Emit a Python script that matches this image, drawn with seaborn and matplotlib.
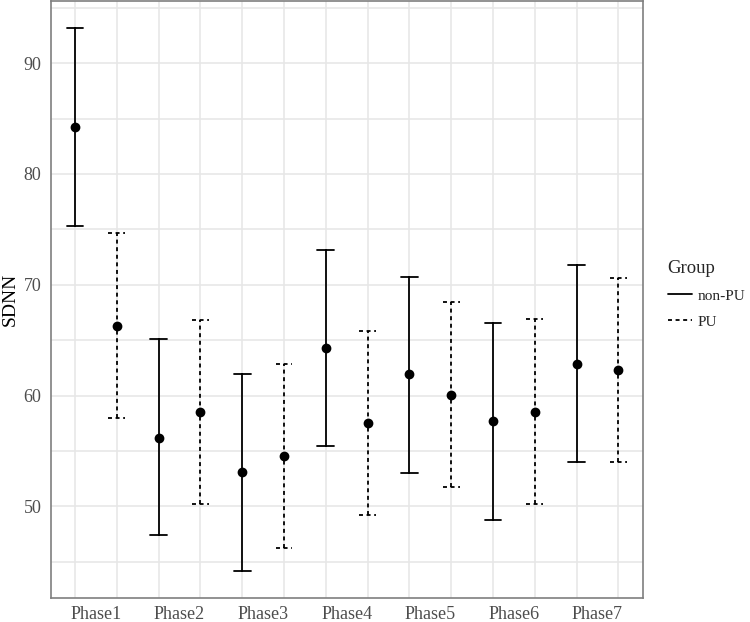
import numpy as np
import pandas as pd
import matplotlib
matplotlib.use("Agg")
import matplotlib.pyplot as plt
import seaborn as sns
from matplotlib.lines import Line2D

sns.set_theme(style="white")
plt.rcParams["font.family"] = ["Liberation Serif", "DejaVu Serif"]

phases = ["Phase1", "Phase2", "Phase3", "Phase4", "Phase5", "Phase6", "Phase7"]
groups = ["non-PU", "PU"]

# mean and interval bounds
nonpu_mean = [84.23, 56.21, 53.08, 64.30, 61.91, 57.70, 62.86]
nonpu_low = [75.33, 47.38, 44.18, 55.43, 53.04, 48.81, 54.00]
nonpu_high = [93.17, 65.08, 61.94, 73.16, 70.74, 66.56, 71.75]
pu_mean = [66.30, 58.48, 54.57, 57.56, 60.09, 58.54, 62.27]
pu_low = [57.96, 50.24, 46.28, 49.26, 51.79, 50.24, 54.00]
pu_high = [74.64, 66.80, 62.89, 65.82, 68.42, 66.87, 70.59]

rows = []
for g, m, lo, hi in [("non-PU", nonpu_mean, nonpu_low, nonpu_high),
                     ("PU", pu_mean, pu_low, pu_high)]:
    for ph, a, b, c in zip(phases, m, lo, hi):
        for v in (a, b, c):
            rows.append({"Phase": ph, "Group": g, "SDNN": v})
df = pd.DataFrame(rows)

fig = plt.figure(figsize=(7.5, 6.22), dpi=100)
ax = fig.add_axes([0.068, 0.0386, 0.789, 0.96])

# median of (low, mean, high) is the mean; 100% interval is low..high
sns.pointplot(data=df, x="Phase", y="SDNN", hue="Group", order=phases,
              hue_order=groups, estimator="median", errorbar=("pi", 100),
              dodge=0.5, capsize=0.2, palette=["black", "black"],
              linestyle="none", markers="o", markersize=5,
              err_kws={"linewidth": 1.3}, legend=False, ax=ax)

# error bars are the lines with NaN breaks (caps), point lines have none
for ln in ax.lines:
    x = np.asarray(ln.get_xdata(), dtype=float)
    if np.isnan(x).any():
        ln.set_zorder(2)
        if (np.nanmean(x) % 1) < 0.5:
            ln.set_linestyle((0, (2.2, 2.0)))
    else:
        ln.set_linestyle("none")
        ln.set_zorder(3)

ax.set_xlim(-0.537, 6.542)
ax.set_ylim(41.73, 95.62)
ax.set_yticks([50, 60, 70, 80, 90])
ax.set_yticks([45, 55, 65, 75, 85, 95], minor=True)
ax.set_xticks(range(len(phases)))
ax.set_xticklabels(phases)
dodged = [i + d for i in range(len(phases)) for d in (-0.25, 0.25)]
ax.set_xticks(dodged, minor=True)

ax.xaxis.grid(False, which="major")
ax.xaxis.grid(True, which="minor", color="#e6e6e6", linewidth=1.1)
ax.yaxis.grid(True, which="both", color="#e6e6e6", linewidth=1.1)
ax.set_axisbelow(True)

ax.tick_params(axis="both", which="both", length=0, labelsize=13, colors="#4d4d4d")
ax.tick_params(axis="x", pad=6)
ax.tick_params(axis="y", pad=7)
ax.set_xlabel("")
ax.set_ylabel("SDNN", fontsize=14, color="black", labelpad=3)
for s in ax.spines.values():
    s.set_visible(True)
    s.set_color("#7f7f7f")
    s.set_linewidth(1.2)

handles = [Line2D([], [], color="black", linewidth=1.3),
           Line2D([], [], color="black", linewidth=1.3, linestyle=(0, (2.2, 2.0)))]
leg = fig.legend(handles, groups, title="Group", loc="center left",
                 bbox_to_anchor=(0.886, 0.527), frameon=False, fontsize=11,
                 title_fontsize=13.5, handlelength=1.6, handletextpad=0.35,
                 labelspacing=0.8, borderaxespad=0.0, borderpad=0.2)
leg._legend_box.align = "left"

fig.savefig("out.png", dpi=100)
